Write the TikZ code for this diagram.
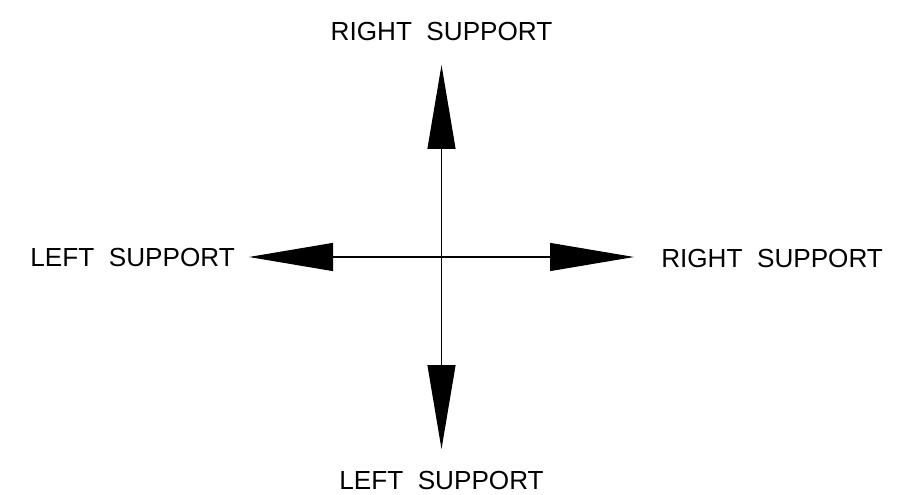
\documentclass[tikz,border=0pt]{standalone}
\usepackage{fontspec}
\setmainfont{Liberation Sans}
\usetikzlibrary{positioning,arrows.meta}
\tikzset{
  sdlab/.style={font=\fontsize{19.6}{21}\selectfont, inner sep=0pt},
  sdaxis/.style={draw=black, line width=0.8pt,
                 -{Triangle[length=63pt, width=21pt]}},
}

\begin{document}
\begin{tikzpicture}[x=0.75pt, y=-0.75pt]
  \useasboundingbox (0,0) rectangle (906,495);
  \coordinate (O) at (441.5,257);
  \coordinate (TN) at (441.5,65);
  \coordinate (TS) at (441.5,449);
  \coordinate (TW) at (249,257);
  \coordinate (TE) at (634,257);
  \node[sdlab] (N) at (441.5,32) {RIGHT\ \ SUPPORT};
  \node[sdlab, anchor=east] (W) at (235,258) {LEFT\ \ SUPPORT};
  \node[sdlab, anchor=west] (E) at (661,259) {RIGHT\ \ SUPPORT};
  \node[sdlab] (S) at (441.5,481) {LEFT\ \ SUPPORT};
  \draw[sdaxis] (O) -- (TN);
  \draw[sdaxis] (O) -- (TS);
  \draw[sdaxis] (O) -- (TW);
  \draw[sdaxis] (O) -- (TE);
\end{tikzpicture}
\end{document}
